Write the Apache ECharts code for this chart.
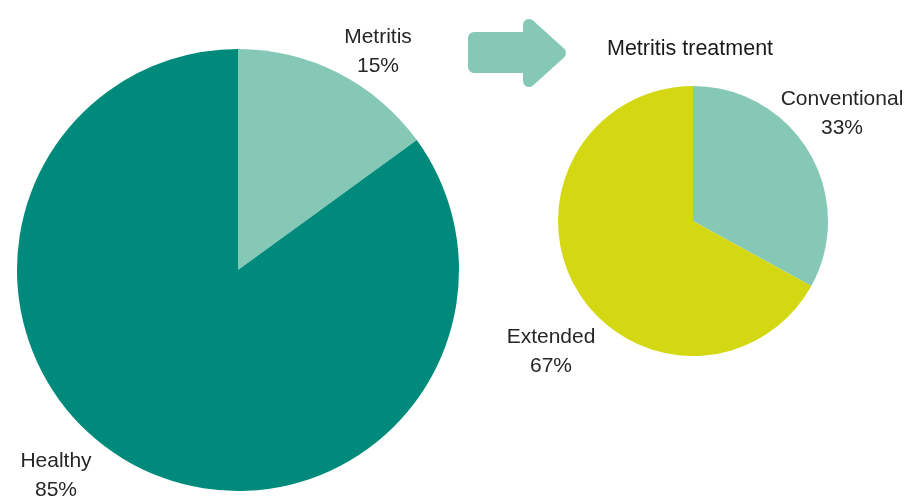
<!DOCTYPE html>
<html>
<head>
<meta charset="utf-8">
<script src="https://cdn.jsdelivr.net/npm/echarts@6/dist/echarts.min.js"></script>
<style>html,body{margin:0;padding:0;background:#fff}#c{width:904px;height:501px}</style>
</head>
<body>
<div id="c"></div>
<script>
var mainCategories = ['Metritis', 'Healthy'];
var mainValues = [15, 85];
var treatCategories = ['Conventional', 'Extended'];
var treatValues = [33, 67];
var treatTitle = 'Metritis treatment';

var COL_DARK = '#008A7B', COL_LIGHT = '#86C8B6', COL_YELLOW = '#D3D813';
var mainColors = [COL_LIGHT, COL_DARK];
var treatColors = [COL_LIGHT, COL_YELLOW];
var mainLabelPos = [[378, 52], [56, 476]];
var treatLabelPos = [[842, 114], [551, 352]];

function mk(cats, vals, cols) {
  return cats.map(function (c, i) { return { name: c, value: vals[i], itemStyle: { color: cols[i] } }; });
}
var labelStyle = {
  show: true, formatter: '{b}\n{d}%', fontFamily: 'Liberation Sans, Arial, sans-serif',
  fontSize: 21, lineHeight: 29, color: '#262626', align: 'center', overflow: 'none', width: 200
};

var chart = echarts.init(document.getElementById('c'), null, { renderer: 'canvas' });
chart.setOption({
  animation: false,
  graphic: [
    {
      type: 'polygon',
      shape: { points: [[474, 38], [529, 38], [529, 25], [560, 53], [529, 81], [529, 67], [474, 67]] },
      style: { fill: COL_LIGHT, stroke: COL_LIGHT, lineWidth: 12, lineJoin: 'round' }
    },
    {
      type: 'text', left: 607, top: 38,
      style: { text: treatTitle, fontFamily: 'Liberation Sans, Arial, sans-serif', fontSize: 21.5, fill: '#1a1a1a' }
    }
  ],
  series: [
    {
      type: 'pie', center: [238, 270], radius: 221, startAngle: 90, clockwise: true,
      data: mk(mainCategories, mainValues, mainColors),
      label: labelStyle, labelLine: { show: false },
      labelLayout: function (p) { var q = mainLabelPos[p.dataIndex]; return { x: q[0], y: q[1], align: 'center', verticalAlign: 'middle' }; },
      emphasis: { disabled: true }
    },
    {
      type: 'pie', center: [693, 221], radius: 135, startAngle: 90, clockwise: true,
      data: mk(treatCategories, treatValues, treatColors),
      label: labelStyle, labelLine: { show: false },
      labelLayout: function (p) { var q = treatLabelPos[p.dataIndex]; return { x: q[0], y: q[1], align: 'center', verticalAlign: 'middle' }; },
      emphasis: { disabled: true }
    }
  ]
});
</script>
</body>
</html>
